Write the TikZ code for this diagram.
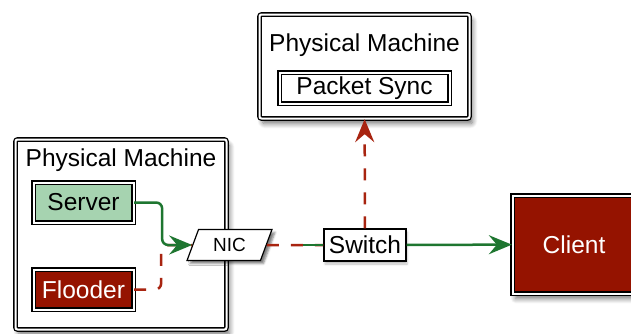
\documentclass[tikz,border=0pt]{standalone}
\usepackage{fontspec}
\setmainfont{Liberation Sans}
\usetikzlibrary{arrows.meta,shapes.geometric,shadows.blur,positioning}

\definecolor{srvgreen}{RGB}{166,211,176}
\definecolor{darkred}{RGB}{149,19,0}
\definecolor{flowgreen}{RGB}{30,118,48}
\definecolor{flowred}{RGB}{168,36,16}

\begin{document}
\begin{tikzpicture}[x=1pt, y=-1pt,
  bigfont/.style={font=\fontsize{24.5}{28}\selectfont},
  box/.style={draw, double=white, line width=1.3pt, double distance=2pt,
    fill=white, inner sep=0pt, bigfont},
  deepshadow/.style={blur shadow={shadow xshift=3pt, shadow yshift=-5pt,
    shadow blur radius=5pt, shadow blur steps=8, shadow opacity=55}},
  machine/.style={box, rounded corners=2pt, deepshadow},
  greenflow/.style={draw=flowgreen, line width=2.5pt, rounded corners=6pt},
  redflow/.style={draw=flowred, line width=2.5pt, rounded corners=6pt,
    dash pattern=on 12pt off 12pt},
  tip/.style={-{Stealth[length=23pt, width=19pt, inset=8pt]}}
]
\useasboundingbox (0,0) rectangle (631,333);
\clip (0,0) rectangle (631,333);

% left machine
\node [machine, minimum width=211, minimum height=190] (pmleft) at (121,234.5) {};
\node [bigfont, anchor=base] (pmlefttitle) at ([yshift=-28pt]pmleft.north) {Physical Machine};
\node [box, fill=srvgreen, minimum width=100, minimum height=40] (server) at (83.5,202.5) {Server};
\node [box, fill=darkred, text=white, minimum width=100, minimum height=40] (flooder) at (83.5,289.5) {Flooder};

% top machine
\node [machine, minimum width=210, minimum height=104] (pmtop) at (364.5,66.5) {};
\node [bigfont, anchor=base] (pmtoptitle) at ([yshift=-38pt]pmtop.north) {Physical Machine};
\node [box, minimum width=170, minimum height=31] (sync) at (364.5,88) {Packet Sync};

% client
\node [box, fill=darkred, text=white, minimum width=123, minimum height=98, deepshadow] (client) at (574,244.5) {Client};

% nic and switch
\node [trapezium, trapezium left angle=70, trapezium right angle=110, trapezium stretches=true,
  draw, line width=1.2pt, fill=white, minimum width=85, minimum height=31,
  font=\fontsize{19}{22}\selectfont,
  blur shadow={shadow xshift=3pt, shadow yshift=-3pt, shadow opacity=50}] (nic) at (229.5,245) {NIC};
\node [draw, line width=1.2pt, fill=white, minimum width=82, minimum height=32, inner sep=2pt,
  bigfont, blur shadow={shadow xshift=1pt, shadow yshift=-3pt, shadow opacity=25}] (switch) at (365,245) {Switch};

% flows
\draw [redflow] (flooder.east) -- ++(27,0) |- (nic);
\draw [greenflow, tip] (server.east) -- ++(28,0) |- (nic);
\draw [redflow] (nic) -- (switch);
\coordinate (greenstub) at (303,245);
\draw [greenflow] (greenstub) -- (switch.west);
\draw [greenflow, tip] (switch) -- (client);
\draw [redflow, tip] (switch) -- (pmtop);

\end{tikzpicture}
\end{document}
